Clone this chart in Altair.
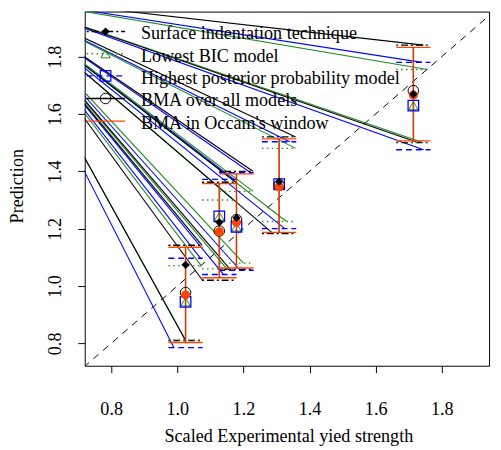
import altair as alt
import pandas as pd

# ---------------- data ----------------
models = ["surface", "bic", "hpp", "bma_all", "bma_occ"]
model_labels = ["Surface indentation technique", "Lowest BIC model",
                "Highest posterior probability model", "BMA over all models",
                "BMA in Occam's window"]

group_x = [1.025, 1.127, 1.179, 1.308, 1.714]

pred_surface = [1.074, 1.222, 1.238, 1.364, 1.669]
pred_bic = [0.945, 1.243, 1.206, 1.355, 1.629]
pred_hpp = [0.945, 1.243, 1.206, 1.355, 1.629]
pred_bma_all = [0.977, 1.192, 1.232, 1.352, 1.681]
pred_bma_occ = [0.969, 1.189, 1.222, 1.346, 1.666]

upper_surface = [1.142, 1.362, 1.400, 1.520, 1.840]
lower_surface = [0.810, 1.020, 1.058, 1.183, 1.500]
upper_bic = [1.071, 1.300, 1.330, 1.480, 1.755]
lower_bic = [0.811, 1.060, 1.080, 1.225, 1.501]
upper_hpp = [1.097, 1.372, 1.395, 1.503, 1.780]
lower_hpp = [0.785, 1.040, 1.055, 1.200, 1.475]
upper_occ = [1.135, 1.357, 1.391, 1.513, 1.832]
lower_occ = [0.803, 1.029, 1.063, 1.187, 1.506]

# stray segments: common start point, end points near the caps
seg_start = [0.45, 2.01]
seg_end_x_upper = {"surface": [1.075, 1.177, 1.229, 1.358, 1.744],
                   "bic": [1.072, 1.170, 1.229, 1.358, 1.757],
                   "hpp": [1.070, 1.172, 1.222, 1.340, 1.740]}
seg_end_x_lower = {"surface": [1.025, 1.076, 1.160, 1.290, 1.730],
                   "bic": [1.025, 1.150, 1.200, 1.330, 1.740],
                   "hpp": [0.990, 1.140, 1.190, 1.325, 1.745]}
cap_half = 0.052

diag = [0.6, 2.1]
tick_values = [0.8, 1.0, 1.2, 1.4, 1.6, 1.8]

legend_y = [1.8875, 1.810, 1.733, 1.654, 1.575]
legend_x_sym = 0.783
legend_x_line = [0.726, 0.842]
legend_x_text = 0.890

# ---------------- styling ----------------
colors = ["black", "#228B22", "#0000FF", "black", "#FF4500"]
dashes = [[2, 3, 7, 3], [1.5, 3.5], [6, 4], [1, 0], [1, 0]]
FONT = "Liberation Serif"
FS = 18.4

xs = alt.Scale(domain=[0.72, 1.943], nice=False, zero=False)
ys = alt.Scale(domain=[0.722, 1.957], nice=False, zero=False)
col = alt.Color("model:N", scale=alt.Scale(domain=models, range=colors), legend=None)
dsh = alt.StrokeDash("model:N", scale=alt.Scale(domain=models, range=dashes), legend=None)

x_axis = alt.Axis(values=tick_values, format=".1f", grid=False, domain=False,
                  tickColor="black", tickSize=7, labelFont=FONT, labelFontSize=FS,
                  labelColor="black", labelBaseline="middle", labelPadding=37,
                  title="Scaled Experimental yied strength", titleFont=FONT,
                  titleFontSize=FS, titleFontWeight="normal", titleColor="black",
                  titleX=207, titleY=71, titleAlign="center", titleBaseline="middle")
y_axis = alt.Axis(values=tick_values, format=".1f", grid=False, domain=False,
                  tickColor="black", tickSize=7, labelFont=FONT, labelFontSize=FS,
                  labelColor="black", labelAngle=270, labelAlign="center",
                  labelBaseline="middle", labelPadding=24,
                  title="Prediction", titleFont=FONT, titleFontSize=FS,
                  titleFontWeight="normal", titleColor="black", titleAngle=270,
                  titleX=-69, titleY=177, titleAlign="center", titleBaseline="middle")


def X(f):
    return alt.X(f, scale=xs, axis=x_axis)


def Y(f):
    return alt.Y(f, scale=ys, axis=y_axis)


caps = {"surface": (upper_surface, lower_surface),
        "bic": (upper_bic, lower_bic),
        "hpp": (upper_hpp, lower_hpp),
        "bma_occ": (upper_occ, lower_occ)}

# stray diagonal segments
seg_rows = []
for m in ["hpp", "bic", "surface"]:
    up, lo = caps[m]
    for i in range(5):
        seg_rows.append(dict(model=m, x=seg_start[0], y=seg_start[1],
                             x2=seg_end_x_upper[m][i], y2=up[i]))
        seg_rows.append(dict(model=m, x=seg_start[0], y=seg_start[1],
                             x2=seg_end_x_lower[m][i], y2=lo[i]))
seg_df = pd.DataFrame(seg_rows)

cap_rows = []
for m in ["surface", "bic", "hpp", "bma_occ"]:
    up, lo = caps[m]
    for i in range(5):
        for v in (up[i], lo[i]):
            cap_rows.append(dict(model=m, x=group_x[i] - cap_half,
                                 x2=group_x[i] + cap_half, y=v))
cap_df = pd.DataFrame(cap_rows)

bar_df = pd.DataFrame(dict(x=group_x, y=lower_occ, y2=upper_occ))

pts = pd.DataFrame(dict(x=group_x, surface=pred_surface, bic=pred_bic,
                        hpp=pred_hpp, bma_all=pred_bma_all, bma_occ=pred_bma_occ))

leg = pd.DataFrame(dict(model=models, label=model_labels, y=legend_y,
                        x=[legend_x_sym] * 5, xl=[legend_x_line[0]] * 5,
                        xl2=[legend_x_line[1]] * 5, xt=[legend_x_text] * 5))

diag_df = pd.DataFrame(dict(x=diag, y=diag))
diag_layer = alt.Chart(diag_df).mark_line(clip=True, color="black", strokeWidth=1,
                                          strokeDash=[7, 6]).encode(
    x=X("x:Q"), y=Y("y:Q"))

seg_layer = alt.Chart(seg_df).mark_rule(clip=True, strokeWidth=1.1).encode(
    x=X("x:Q"), y=Y("y:Q"), x2="x2:Q", y2="y2:Q", color=col)

bar_dark = alt.Chart(bar_df).mark_rule(clip=True, strokeWidth=1, color="black").encode(
    x=X("x:Q"), y=Y("y:Q"), y2="y2:Q")
bar_orange = alt.Chart(bar_df).mark_rule(clip=True, strokeWidth=1.7, color="#FF4500",
                                         opacity=0.8).encode(
    x=X("x:Q"), y=Y("y:Q"), y2="y2:Q")

cap_layer = alt.Chart(cap_df).mark_rule(clip=True, strokeWidth=1.4).encode(
    x=X("x:Q"), y=Y("y:Q"), x2="x2:Q", color=col, strokeDash=dsh)


def pt_layer(df, yf, shape, size, color, filled, sw=1.0):
    return alt.Chart(df).mark_point(shape=shape, size=size, filled=filled,
                                    color=color, strokeWidth=sw, opacity=1,
                                    clip=True).encode(x=X("x:Q"), y=Y(yf))


points = [
    pt_layer(pts, "bic:Q", "triangle-up", 90, "#228B22", False),
    pt_layer(pts, "hpp:Q", "square", 115, "#0000FF", False, 1.3),
    pt_layer(pts, "bma_all:Q", "circle", 115, "black", False),
    pt_layer(pts, "bma_occ:Q", "circle", 85, "#FF4500", True),
    pt_layer(pts, "surface:Q", "diamond", 70, "black", True),
]

leg_lines = alt.Chart(leg).mark_rule(strokeWidth=1.4).encode(
    x=X("xl:Q"), x2="xl2:Q", y=Y("y:Q"), color=col, strokeDash=dsh)

leg_points = [
    pt_layer(leg.iloc[[0]], "y:Q", "diamond", 70, "black", True),
    pt_layer(leg.iloc[[1]], "y:Q", "triangle-up", 90, "#228B22", False),
    pt_layer(leg.iloc[[2]], "y:Q", "square", 115, "#0000FF", False, 1.3),
    pt_layer(leg.iloc[[3]], "y:Q", "circle", 115, "black", False),
]

leg_text = alt.Chart(leg).mark_text(align="left", baseline="middle", dy=2,
                                    font=FONT, fontSize=FS, color="black").encode(
    x=X("xt:Q"), y=Y("y:Q"), text="label:N")

chart = alt.layer(diag_layer, seg_layer, cap_layer, bar_dark, bar_orange, *points,
                  leg_lines, *leg_points, leg_text).properties(
    width=411, height=360,
    autosize=alt.AutoSizeParams(type="none"),
    padding={"left": 78, "top": 0, "right": 4, "bottom": 82},
).configure_view(stroke="black", strokeWidth=1)

chart.save("out.html", embed_options={"renderer": "svg", "actions": False})
